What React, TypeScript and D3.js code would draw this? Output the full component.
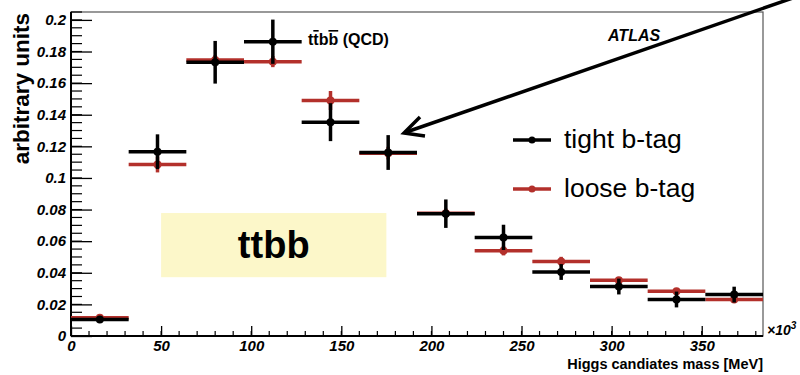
import React, { useRef, useEffect } from "react";
import * as d3 from "d3";

// bin edges (GeV, shown x10^3 MeV)
const binLow = [0, 32, 64, 96, 128, 160, 192, 224, 256, 288, 320, 352];
const binWidth = 32;

const tightValues = [0.0104, 0.1166, 0.1732, 0.1862, 0.1353, 0.1161, 0.0774, 0.0624, 0.0405, 0.0313, 0.0231, 0.0262];
const tightErrors = [0.0012, 0.011, 0.0135, 0.014, 0.012, 0.011, 0.009, 0.008, 0.005, 0.005, 0.005, 0.005];

const looseValues = [0.0115, 0.1085, 0.1747, 0.1736, 0.149, 0.1157, 0.0776, 0.054, 0.0471, 0.0352, 0.0283, 0.0231];
const looseErrors = [0.0012, 0.005, 0.003, 0.0035, 0.006, 0.004, 0.003, 0.003, 0.003, 0.002, 0.0015, 0.002];

const yTickValues = [0, 0.02, 0.04, 0.06, 0.08, 0.1, 0.12, 0.14, 0.16, 0.18, 0.2];
const xTickValues = [0, 50, 100, 150, 200, 250, 300, 350];

const legendLabels = ["tight b-tag", "loose b-tag"];

const App = () => {
    const ref = useRef<SVGSVGElement>(null);

    useEffect(() => {
        const svgWidth = 800;
        const svgHeight = 375;
        const margin = { top: 12, right: 37, bottom: 39, left: 71 };
        const black = "#000000";
        const red = "#b3302b";
        const font = "Liberation Sans, Arial, Helvetica, sans-serif";

        const svg = d3.select(ref.current)
            .attr("width", svgWidth)
            .attr("height", svgHeight)
            .style("font-family", font);

        svg.selectAll("*").remove();

        const xScale = d3.scaleLinear()
            .domain([0, 384])
            .range([margin.left, svgWidth - margin.right]);

        const yScale = d3.scaleLinear()
            .domain([0, 0.205])
            .range([svgHeight - margin.bottom, margin.top]);

        const x0 = xScale(0);
        const y0 = yScale(0);

        // Frame (top / right)
        svg.append("rect")
            .attr("x", x0)
            .attr("y", margin.top)
            .attr("width", xScale(384) - x0)
            .attr("height", y0 - margin.top)
            .attr("fill", "none")
            .attr("stroke", "#555")
            .attr("stroke-width", 1.2);

        // ttbb box
        svg.append("rect")
            .attr("x", xScale(50))
            .attr("y", yScale(0.0778))
            .attr("width", xScale(175) - xScale(50))
            .attr("height", yScale(0.0372) - yScale(0.0778))
            .attr("fill", "#fcf7c9");

        svg.append("text")
            .attr("x", (xScale(50) + xScale(175)) / 2)
            .attr("y", 258)
            .attr("text-anchor", "middle")
            .style("font-size", "38px")
            .style("font-weight", "bold")
            .text("ttbb");

        // Y axis
        const yAxis = d3.axisLeft(yScale)
            .tickValues(yTickValues)
            .tickSize(-21)
            .tickPadding(5)
            .tickFormat(d => String(+(+d).toFixed(2)));

        const yMinor = d3.range(0, 0.2051, 0.005);

        const gy = svg.append("g")
            .attr("transform", `translate(${x0},0)`)
            .call(yAxis);
        gy.select(".domain").attr("stroke-width", 2).attr("d", `M0,${y0}V${margin.top}`);
        gy.selectAll(".tick line").attr("stroke-width", 1.3);
        gy.selectAll(".tick text")
            .style("font-size", "15px")
            .style("font-weight", "bold")
            .style("font-style", "italic")
            .attr("fill", black);

        svg.append("g")
            .selectAll("line")
            .data(yMinor)
            .enter()
            .append("line")
            .attr("x1", x0)
            .attr("x2", x0 + 11)
            .attr("y1", d => yScale(d))
            .attr("y2", d => yScale(d))
            .attr("stroke", black)
            .attr("stroke-width", 1.2);

        // X axis
        const xAxis = d3.axisBottom(xScale)
            .tickValues(xTickValues)
            .tickSize(-10)
            .tickPadding(4)
            .tickFormat(d => String(d));

        const gx = svg.append("g")
            .attr("transform", `translate(0,${y0})`)
            .call(xAxis);
        gx.select(".domain").attr("stroke-width", 2).attr("d", `M${x0},0H${xScale(384)}`);
        gx.selectAll(".tick line").attr("stroke-width", 1.3);
        gx.selectAll(".tick text")
            .style("font-size", "15px")
            .style("font-weight", "bold")
            .style("font-style", "italic")
            .attr("fill", black);

        svg.append("g")
            .selectAll("line")
            .data(d3.range(0, 385, 10))
            .enter()
            .append("line")
            .attr("x1", d => xScale(d))
            .attr("x2", d => xScale(d))
            .attr("y1", y0)
            .attr("y2", y0 - 5)
            .attr("stroke", black)
            .attr("stroke-width", 1.2);

        // x10^3
        const mult = svg.append("text")
            .attr("x", xScale(384) + 4)
            .attr("y", y0 - 1)
            .style("font-size", "14px")
            .style("font-weight", "bold")
            .style("font-style", "italic");
        mult.append("tspan").text("\u00d710");
        mult.append("tspan").attr("dy", -6).style("font-size", "10px").text("3");

        // Axis titles
        svg.append("text")
            .attr("x", xScale(384))
            .attr("y", 369)
            .attr("text-anchor", "end")
            .style("font-size", "14.5px")
            .style("font-weight", "bold")
            .text("Higgs candiates mass [MeV]");

        svg.append("text")
            .attr("transform", `translate(29,${margin.top + 1}) rotate(-90)`)
            .attr("text-anchor", "end")
            .style("font-size", "22.5px")
            .style("font-weight", "bold")
            .text("arbitrary units");

        // Data points (loose first, tight on top)
        const drawSeries = (values: number[], errors: number[], color: string) => {
            const g = svg.append("g");
            values.forEach((v, i) => {
                const xc = xScale(binLow[i] + binWidth / 2);
                g.append("line")
                    .attr("x1", xScale(binLow[i]))
                    .attr("x2", xScale(binLow[i] + binWidth))
                    .attr("y1", yScale(v))
                    .attr("y2", yScale(v))
                    .attr("stroke", color)
                    .attr("stroke-width", 3.5);
                g.append("line")
                    .attr("x1", xc)
                    .attr("x2", xc)
                    .attr("y1", yScale(v - errors[i]))
                    .attr("y2", yScale(v + errors[i]))
                    .attr("stroke", color)
                    .attr("stroke-width", 3.5);
                g.append("circle")
                    .attr("cx", xc)
                    .attr("cy", yScale(v))
                    .attr("r", 4)
                    .attr("fill", color);
            });
        };
        drawSeries(looseValues, looseErrors, red);
        drawSeries(tightValues, tightErrors, black);

        // Legend
        [black, red].forEach((c, i) => {
            const ly = 140 + i * 49;
            svg.append("line")
                .attr("x1", 513)
                .attr("x2", 551)
                .attr("y1", ly)
                .attr("y2", ly)
                .attr("stroke", c)
                .attr("stroke-width", 3.5);
            svg.append("circle")
                .attr("cx", 532)
                .attr("cy", ly)
                .attr("r", 3.5)
                .attr("fill", c);
            svg.append("text")
                .attr("x", 564)
                .attr("y", ly + 8)
                .style("font-size", "26.5px")
                .text(legendLabels[i]);
        });

        // Labels
        svg.append("text")
            .attr("x", 608)
            .attr("y", 41)
            .style("font-size", "16px")
            .style("font-weight", "bold")
            .style("font-style", "italic")
            .text("ATLAS");

        const qcd = svg.append("text")
            .attr("x", 308)
            .attr("y", 45)
            .style("font-size", "16px")
            .style("font-weight", "bold");
        qcd.append("tspan").text("t");
        qcd.append("tspan").style("text-decoration", "overline").text("t");
        qcd.append("tspan").text("b");
        qcd.append("tspan").style("text-decoration", "overline").text("b");
        qcd.append("tspan").text(" (QCD)");

        // Arrow
        svg.append("line")
            .attr("x1", 800)
            .attr("y1", -4.5)
            .attr("x2", 405)
            .attr("y2", 132.5)
            .attr("stroke", black)
            .attr("stroke-width", 3.5);
        svg.append("path")
            .attr("d", "M420,117 L404,133 L425,136")
            .attr("fill", "none")
            .attr("stroke", black)
            .attr("stroke-width", 3.5);
    }, []);

    return (
        <div style={{ position: "absolute", left: 0, top: 0 }}>
            <svg ref={ref} style={{ display: "block" }}></svg>
        </div>
    );
};

export default App;
